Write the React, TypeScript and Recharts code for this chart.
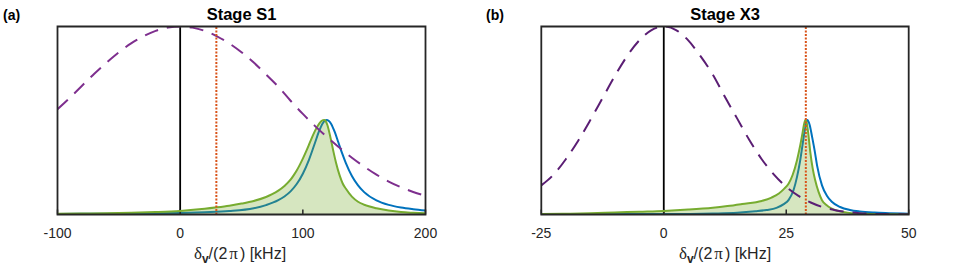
import React from 'react';
import { ComposedChart, Line, Area, XAxis, YAxis, ReferenceLine, ReferenceArea } from 'recharts';

// ---------- Panel (a) Stage S1 ----------
const ticksA = [-100, 0, 100, 200];
const dashXA = [-100, -90, -80, -70, -60, -50, -40, -30, -20, -10, 0, 10, 20, 30, 40, 50, 60, 70, 80, 90, 100, 110, 120, 130, 140, 150, 160, 170, 180, 190, 200];
const dashYA = [0.56, 0.62, 0.685, 0.749, 0.808, 0.863, 0.91, 0.948, 0.977, 0.994, 1.0, 0.994, 0.977, 0.948, 0.91, 0.863, 0.808, 0.745, 0.68, 0.605, 0.535, 0.47, 0.41, 0.355, 0.302, 0.255, 0.212, 0.175, 0.145, 0.12, 0.1];
const greenXA = [-100, -80, -60, -40, -20, 0, 20, 30, 40, 50, 60, 70, 75, 80, 85, 90, 92.5, 95, 97.5, 100, 102.5, 105, 107.5, 110, 112, 113.5, 115, 116.5, 117.5, 118.5, 120, 122, 123, 125, 127, 130, 132.5, 135, 140, 145, 150, 160, 170, 180, 190, 200];
const greenYA = [0.004, 0.005, 0.006, 0.009, 0.013, 0.019, 0.03, 0.038, 0.047, 0.058, 0.072, 0.093, 0.108, 0.127, 0.152, 0.185, 0.208, 0.234, 0.264, 0.297, 0.333, 0.371, 0.41, 0.446, 0.47, 0.485, 0.496, 0.502, 0.503, 0.4985, 0.476, 0.425, 0.395, 0.333, 0.277, 0.208, 0.165, 0.138, 0.095, 0.068, 0.052, 0.033, 0.021, 0.013, 0.009, 0.006];
const blueXA = [-100, -60, -20, 0, 20, 40, 60, 70, 80, 85, 90, 95, 100, 105, 110, 113, 116, 118, 119.5, 121, 123, 126, 129, 132, 135, 140, 145, 150, 160, 170, 180, 190, 200];
const blueYA = [0.003, 0.004, 0.006, 0.008, 0.012, 0.018, 0.033, 0.05, 0.076, 0.096, 0.123, 0.162, 0.217, 0.291, 0.383, 0.439, 0.483, 0.499, 0.503, 0.499, 0.483, 0.439, 0.383, 0.326, 0.275, 0.205, 0.155, 0.119, 0.075, 0.051, 0.037, 0.028, 0.021];
const markerA = 29.5;

// ---------- Panel (b) Stage X3 ----------
const ticksB = [-25, 0, 25, 50];
const dashXB = [-25, -22.5, -20, -17.5, -15, -12.5, -10, -7.5, -5, -2.5, 0, 2.5, 5, 7.5, 10, 12.5, 15, 17.5, 20, 22.5, 25, 27.5, 30, 32.5, 35, 37.5, 40, 42.5, 45, 47.5, 50];
const dashYB = [0.155, 0.212, 0.294, 0.391, 0.502, 0.619, 0.736, 0.842, 0.926, 0.981, 1.0, 0.981, 0.926, 0.842, 0.745, 0.625, 0.51, 0.395, 0.294, 0.212, 0.147, 0.099, 0.064, 0.039, 0.023, 0.013, 0.007, 0.004, 0.002, 0.001, 0.0005];
const greenXB = [-25, -20, -15, -10, -5, 0, 5, 10, 13, 16, 20, 22, 23.5, 24.5, 25.5, 26.3, 27.2, 27.8, 28.3, 28.6, 28.9, 29.2, 29.5, 29.9, 30.4, 30.9, 31.6, 32.3, 33.2, 34.2, 35.5, 37.5, 40, 45, 50];
const greenYB = [0.002, 0.004, 0.007, 0.011, 0.015, 0.019, 0.026, 0.036, 0.045, 0.056, 0.072, 0.09, 0.112, 0.135, 0.165, 0.21, 0.289, 0.36, 0.43, 0.475, 0.503, 0.485, 0.43, 0.335, 0.245, 0.183, 0.12, 0.076, 0.05, 0.032, 0.02, 0.01, 0.005, 0.001, 0.0];
const blueXB = [-25, 0, 10, 15, 18.7, 21, 23, 24.5, 25.5, 26.5, 27.2, 27.8, 28.3, 28.8, 29.3, 29.8, 30.3, 30.8, 31.3, 32.3, 33.3, 34.3, 36, 38, 40, 43, 46, 50];
const blueYB = [0.001, 0.002, 0.005, 0.009, 0.017, 0.024, 0.035, 0.055, 0.078, 0.13, 0.2, 0.28, 0.365, 0.45, 0.503, 0.475, 0.41, 0.34, 0.26, 0.155, 0.1, 0.068, 0.04, 0.024, 0.016, 0.01, 0.007, 0.004];
const markerB = 29.0;

const toPts = (xs: number[], ys: number[]) => xs.map((x, i) => ({ x, y: ys[i] }));

const FONT = '"Liberation Sans", Arial, Helvetica, sans-serif';
const AX = '#262626';

type PanelProps = {
  left: number; width: number; mLeft: number; mRight: number;
  domain: [number, number]; ticks: number[];
  dash: { x: number; y: number }[]; green: { x: number; y: number }[]; blue: { x: number; y: number }[];
  marker: number; dashColor: string;
};

function Panel(p: PanelProps) {
  return (
    <div style={{ position: 'absolute', left: p.left, top: 0 }}>
      <ComposedChart width={p.width} height={273} margin={{ top: 25.5, bottom: 18.5, left: p.mLeft, right: p.mRight }}>
        <XAxis xAxisId={0} type="number" dataKey="x" domain={p.domain} ticks={p.ticks} allowDataOverflow
          height={40} tickSize={-5} tickMargin={19}
          axisLine={false} tickLine={{ stroke: AX, strokeWidth: 1.5 }}
          tick={{ fontSize: 14, fill: AX, fontFamily: FONT }} />
        <XAxis xAxisId="top" orientation="top" type="number" dataKey="x" domain={p.domain} ticks={p.ticks} allowDataOverflow
          height={1} tickSize={-5} tick={false}
          axisLine={false} tickLine={{ stroke: AX, strokeWidth: 1.5 }} />
        <YAxis yAxisId={0} type="number" domain={[0, 1]} hide allowDataOverflow />
        <ReferenceLine x={0} stroke="#000" strokeWidth={1.8} zIndex={350} />
        <Line data={p.blue} dataKey="y" type="monotone" stroke="#0072BD" strokeWidth={2} dot={false} isAnimationActive={false} zIndex={400} />
        <Area data={p.green} dataKey="y" type="monotone" stroke="none" fill="#77AC30" fillOpacity={0.3} baseValue={0} isAnimationActive={false} zIndex={450} />
        <Line data={p.green} dataKey="y" type="monotone" stroke="#77AC30" strokeWidth={2} dot={false} isAnimationActive={false} zIndex={500} />
        <Line data={p.dash} dataKey="y" type="monotone" stroke={p.dashColor} strokeWidth={2} strokeDasharray="14 9" dot={false} isAnimationActive={false} zIndex={600} />
        <ReferenceLine x={p.marker} stroke="#D95319" strokeWidth={2} strokeDasharray="2 1.5" zIndex={700} />
        <ReferenceArea x1={p.domain[0]} x2={p.domain[1]} y1={0} y2={1} fill="none" fillOpacity={0} stroke={AX} strokeWidth={1.8} zIndex={800} />
      </ComposedChart>
    </div>
  );
}

const textBase: React.CSSProperties = { position: 'absolute', fontFamily: FONT, color: '#000', whiteSpace: 'nowrap', lineHeight: 1 };

function XLabel({ cx }: { cx: number }) {
  return (
    <div style={{ ...textBase, left: cx - 80, width: 160, top: 245, textAlign: 'center', fontSize: 16, color: AX }}>
      <span style={{ fontFamily: '"Liberation Serif", "DejaVu Serif", serif', fontSize: 17 }}>δ</span>
      <span style={{ fontWeight: 'bold', fontSize: 12, position: 'relative', top: 4 }}>v</span>
      <span>/(2</span>
      <span style={{ fontFamily: '"Liberation Serif", "DejaVu Serif", serif', fontSize: 17, padding: '0 2px 0 2px' }}>π</span>
      <span>) [kHz]</span>
    </div>
  );
}

export default function App() {
  return (
    <div style={{ position: 'absolute', left: 0, top: 0, width: 969, height: 273, background: '#fff', overflow: 'hidden' }}>
      <Panel left={0} width={480} mLeft={57.5} mRight={54.5} domain={[-100, 200]} ticks={ticksA}
        dash={toPts(dashXA, dashYA)} green={toPts(greenXA, greenYA)} blue={toPts(blueXA, blueYA)}
        marker={markerA} dashColor="#7E2F8E" />
      <Panel left={480} width={489} mLeft={61.3} mRight={60.3} domain={[-25, 50]} ticks={ticksB}
        dash={toPts(dashXB, dashYB)} green={toPts(greenXB, greenYB)} blue={toPts(blueXB, blueYB)}
        marker={markerB} dashColor="#5B1E74" />
      <div style={{ ...textBase, left: 3, top: 8, fontSize: 14, fontWeight: 'bold' }}>(a)</div>
      <div style={{ ...textBase, left: 486, top: 8, fontSize: 14, fontWeight: 'bold' }}>(b)</div>
      <div style={{ ...textBase, left: 141.5, width: 200, top: 5.5, textAlign: 'center', fontSize: 16.5, fontWeight: 'bold' }}>Stage S1</div>
      <div style={{ ...textBase, left: 625, width: 200, top: 5.5, textAlign: 'center', fontSize: 16.5, fontWeight: 'bold' }}>Stage X3</div>
      <XLabel cx={240} />
      <XLabel cx={725} />
    </div>
  );
}
